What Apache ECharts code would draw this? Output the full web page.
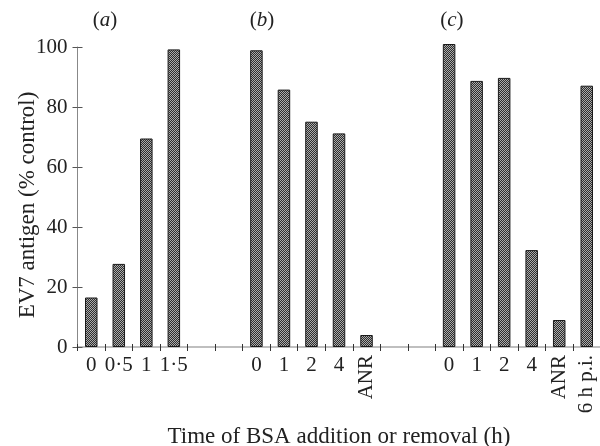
<!DOCTYPE html>
<html>
<head>
<meta charset="utf-8">
<script src="https://cdn.jsdelivr.net/npm/echarts@6/dist/echarts.min.js"></script>
<style>
  html, body { margin: 0; padding: 0; background: #fff; }
  #chart { width: 600px; height: 446px; }
</style>
</head>
<body>
<div id="chart"></div>
<script>
// Time points for each experiment panel
const panelA = ['0', '0·5', '1', '1·5'];
const panelB = ['0', '1', '2', '4', 'ANR'];
const panelC = ['0', '1', '2', '4', 'ANR', '6 h p.i.'];

// EV7 antigen, % of control
const valuesA = [16.5, 27.7, 69.5, 99.2];
const valuesB = [98.9, 85.8, 75.1, 71.2, 4.0];
const valuesC = [101.0, 88.7, 89.7, 32.3, 9.0, 87.1];

const panelNames = ['(a)', '(b)', '(c)'];
const yTicks = [0, 20, 40, 60, 80, 100];
const gapSlots = 2;                       // empty slots between panels
const verticalLabels = ['ANR', '6 h p.i.']; // labels drawn rotated

// Build one category axis holding all three panels, with gaps between them
const keys = [];
const values = [];
[[panelA, valuesA], [panelB, valuesB], [panelC, valuesC]].forEach(([cats, vals], p) => {
  if (p > 0) {
    for (let g = 0; g < gapSlots; g++) { keys.push('gap' + p + '-' + g + '|'); values.push(null); }
  }
  cats.forEach((c, i) => { keys.push(p + '-' + i + '|' + c); values.push(vals[i]); });
});
const labelOf = k => k.split('|')[1];

// Stippled fill for the bars
const tile = document.createElement('canvas');
tile.width = 2; tile.height = 2;
const tctx = tile.getContext('2d');
tctx.fillStyle = '#2e2e2e'; tctx.fillRect(0, 0, 2, 2);
tctx.fillStyle = '#ababab'; tctx.fillRect(0, 0, 1, 1); tctx.fillRect(1, 1, 1, 1);

const FONT = 'Liberation Serif';
const TEXT = '#222';
const TICK_SIZE = 21;
const NAME_SIZE = 23;

const chart = echarts.init(document.getElementById('chart'), null, { renderer: 'canvas' });

const gridLeft = 77.5, gridTop = 47, gridW = 523, gridH = 300;
const slotW = gridW / keys.length;
// panel label sits over the first bar group of each panel
const panelStart = [0, panelA.length + gapSlots, panelA.length + panelB.length + 2 * gapSlots];
const panelOffset = [1.0, 0.7, 0.6];

chart.setOption({
  animation: false,
  grid: { left: gridLeft, top: gridTop, width: gridW, height: gridH, outerBoundsMode: 'none', containLabel: false },
  xAxis: [
    {
      type: 'category',
      data: keys,
      position: 'bottom',
      axisLine: { lineStyle: { color: '#aaa', width: 1.5 } },
      axisTick: { show: true, inside: false, length: 4, interval: 0, lineStyle: { color: '#333' } },
      axisLabel: {
        interval: 0, margin: 8, color: TEXT, fontFamily: FONT, fontSize: TICK_SIZE,
        formatter: k => { const l = labelOf(k); return verticalLabels.includes(l) ? '' : l; }
      },
      splitLine: { show: false },
      name: 'Time of BSA addition or removal (h)',
      nameLocation: 'middle',
      nameGap: 78,
      nameMoveOverlap: false,
      nameTextStyle: { color: TEXT, fontFamily: FONT, fontSize: NAME_SIZE }
    },
    {
      type: 'category',
      data: keys,
      position: 'bottom',
      axisLine: { show: false },
      axisTick: { show: true, inside: true, length: 3, interval: 0, lineStyle: { color: '#333' } },
      axisLabel: {
        interval: 0, rotate: 90, margin: 8, color: TEXT, fontFamily: FONT, fontSize: TICK_SIZE,
        formatter: k => { const l = labelOf(k); return verticalLabels.includes(l) ? l : ''; }
      },
      splitLine: { show: false }
    }
  ],
  yAxis: [
    {
      type: 'value',
      min: yTicks[0], max: yTicks[yTicks.length - 1], interval: yTicks[1] - yTicks[0],
      axisLine: { show: true, lineStyle: { color: '#888' } },
      axisTick: { show: true, inside: false, length: 5, lineStyle: { color: '#555' } },
      axisLabel: { margin: 10, color: TEXT, fontFamily: FONT, fontSize: TICK_SIZE },
      splitLine: { show: false },
      name: 'EV7 antigen (% control)',
      nameLocation: 'middle',
      nameGap: 38,
      nameMoveOverlap: false,
      nameTextStyle: { color: TEXT, fontFamily: FONT, fontSize: NAME_SIZE, padding: [0, 16, 0, 0] }
    },
    {
      type: 'value',
      min: yTicks[0], max: yTicks[yTicks.length - 1], interval: yTicks[1] - yTicks[0],
      position: 'left',
      axisLine: { show: false },
      axisTick: { show: true, inside: true, length: 5, lineStyle: { color: '#555' } },
      axisLabel: { show: false },
      splitLine: { show: false }
    }
  ],
  graphic: panelNames.map((n, i) => ({
    type: 'text',
    x: gridLeft + (panelStart[i] + panelOffset[i]) * slotW,
    y: 20,
    style: {
      text: '{p|(}{i|' + n.slice(1, -1) + '}{p|)}',
      align: 'center', verticalAlign: 'middle',
      rich: {
        p: { fontFamily: FONT, fontSize: TICK_SIZE, fill: TEXT, color: TEXT },
        i: { fontFamily: FONT, fontSize: TICK_SIZE, fontStyle: 'italic', fill: TEXT, color: TEXT }
      }
    }
  })),
  series: [{
    type: 'bar',
    xAxisIndex: 0,
    yAxisIndex: 0,
    data: values,
    barWidth: 12.5,
    clip: false,
    itemStyle: {
      color: { image: tile, repeat: 'repeat' },
      borderColor: '#1a1a1a',
      borderWidth: 1
    }
  }]
});
</script>
</body>
</html>
